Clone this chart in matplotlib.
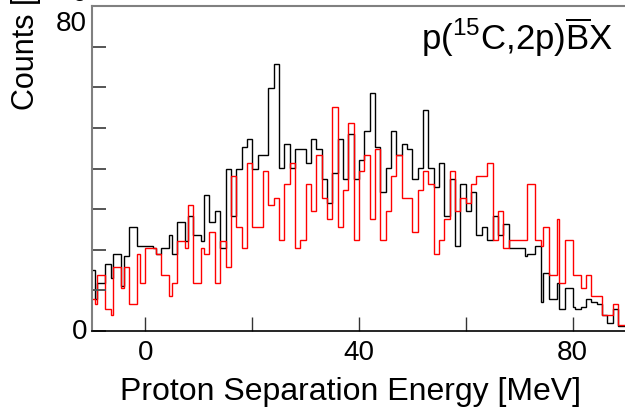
import matplotlib
matplotlib.use("Agg")
import matplotlib.pyplot as plt

plt.rcParams['font.family'] = ['Liberation Sans', 'DejaVu Sans']
plt.rcParams['mathtext.fontset'] = 'custom'
plt.rcParams['mathtext.rm'] = 'Liberation Sans'

#########
#########histogram data#########
#########
black_edges = [-10, -9.5, -9, -7.5, -6.5, -6, -4.5, -4, -3, -1.5, 1.5, 2, 3, 4.5, 5, 6,
               7.5, 8, 9, 10.5, 11, 12, 13, 14, 15, 16, 17, 18, 19, 20, 21, 23, 24, 25,
               26, 27, 28, 30, 31, 32, 33, 34, 35, 36, 37, 38, 39, 40, 41, 42, 43, 44,
               45, 46, 47, 48, 49, 50, 51, 52, 53, 54, 55, 56, 57, 58, 59, 60, 61, 62,
               63, 64, 65, 66, 67, 68, 71, 71.5, 73, 74, 74.5, 75.5, 77, 77.5, 78.5, 80,
               80.5, 81.5, 82.5, 83.5, 84.5, 85.5, 86.5, 87.5, 88.5, 90]
black_counts = [14.9, 7.9, 11.8, 16.4, 13.1, 19, 11.2, 18.4, 25.6, 21, 20.4, 19, 20.4,
                23.6, 19, 26.9, 22.2, 28.2, 23.6, 22.2, 33.5, 26.9, 29.6, 20.4, 40, 28.2,
                40, 45.3, 47.3, 40, 43.3, 59.8, 65.7, 40.1, 46, 40.1, 44.7, 41.4, 47.3,
                44.7, 37.4, 31.5, 38.8, 47.3, 37.4, 48.6, 37.4, 42, 49.3, 58.5, 45.2,
                34.2, 40.1, 49.3, 43.3, 46, 44.7, 37.4, 40.1, 54.5, 40.1, 35.5, 41.4,
                28.2, 37.4, 21, 36.1, 29.6, 34.2, 23.6, 25.6, 22.3, 28.2, 23.6, 26.3,
                20.4, 18.4, 19, 21, 7.2, 14.3, 7.9, 11.8, 5.3, 10.5, 5.9, 5.3, 5.9, 7.9,
                7.2, 6.6, 3.9, 2, 5.3, 1.3]

red_edges = [-10, -9.5, -9, -7.5, -6.5, -6, -4.5, -4, -3, -1.5, -1, 0, 2, 3, 4.5, 5, 6,
             7.5, 8, 9, 10.5, 11, 12, 13, 14, 15, 16, 17, 18, 19, 20, 22, 23, 24, 25, 26,
             27, 28, 29, 30, 31, 32, 33, 34, 35, 36, 37, 38, 39, 40, 41, 42, 43, 44, 45,
             46, 47, 48, 50, 51, 52, 53, 54, 55, 56, 57, 58, 59, 60, 61, 62, 64, 65, 66,
             67, 68, 71.5, 73, 74, 74.5, 75.5, 77, 77.5, 78.5, 80, 81.5, 82.5, 83.5, 85.5,
             87.5, 88.5, 90]
red_counts = [7.9, 6.6, 13.8, 5.3, 3.9, 15.8, 10.5, 15.8, 6.6, 19, 11.8, 20.4, 19, 13.8,
              8.5, 11.8, 22.2, 20.4, 30.9, 11.8, 20.4, 19, 24.3, 11.8, 22.2, 15.8, 38.1,
              25.6, 20.4, 41.4, 25.6, 39.4, 30.9, 32.8, 22.3, 36.1, 41.4, 20.4, 22.3,
              36.1, 29.6, 43.3, 32.8, 27.6, 55.2, 25.6, 34.8, 51.2, 22.3, 39.4, 43.3,
              27.6, 44.7, 22.3, 29.6, 38.1, 43.3, 32.8, 24.3, 34.8, 39.4, 36.1, 19, 22.3,
              27.6, 39.4, 29.6, 32.8, 31.5, 36.1, 38.1, 41.4, 22.3, 29.6, 20.4, 22.3,
              36.1, 22.3, 21, 25.6, 13.8, 27.6, 11.8, 22.3, 13.8, 10.5, 13.8, 8.5, 3.9,
              6.6, 1.6]

x_ticks = [0, 20, 40, 60, 80]
x_tick_labels = ['0', '', '40', '', '80']
y_ticks = [0, 10, 20, 30, 40, 50, 60, 70, 80]

#########
#########draw#########
#########
W, H = 625, 410
fig = plt.figure(figsize=(W / 100, H / 100), dpi=100)
ax = fig.add_axes([92 / W, 78 / H, 534 / W, 325 / H])

ax.stairs(black_counts, black_edges, color='black', lw=1.0, baseline=None)
ax.stairs(red_counts, red_edges, color='#ff0000', lw=1.0, baseline=None)

ax.set_xlim(-10, 90)
ax.set_ylim(0, 80)

ax.spines['right'].set_visible(False)
ax.spines['top'].set_color('#808080')
ax.spines['left'].set_color('#808080')
ax.spines['top'].set_linewidth(1.5)
ax.spines['left'].set_linewidth(1.5)
ax.spines['bottom'].set_linewidth(1.2)

ax.set_xticks(x_ticks)
ax.set_xticklabels(x_tick_labels)
ax.set_yticks(y_ticks)
ax.set_yticklabels([])
ax.tick_params(axis='x', direction='in', length=10, width=1.0, labelsize=20, pad=6,
               color='#333333')
ax.tick_params(axis='y', direction='in', length=10, width=1.4, color='#555555')

# y tick labels drawn by hand (ROOT places the top one below the frame edge)
ax.text(-0.008, 0, '0', transform=ax.transAxes, ha='right', va='center', fontsize=20)
ax.text(-0.01, 0.948, '80', transform=ax.transAxes, ha='right', va='center', fontsize=20)
# bottom of a label that sits above the picture edge
fig.text(80 / W, (H + 6) / H, '0', ha='center', va='center', fontsize=20)

fig.text(351 / W, 10 / H, 'Proton Separation Energy [MeV]', ha='center',
         va='baseline', fontsize=23)
fig.text(26 / W, 300 / H, 'Counts [1/MeV]', rotation=90, ha='center',
         va='bottom', fontsize=22)

ax.text(613 / W, (H - 50) / H, r'p($^{15}$C,2p)$\overline{\mathrm{B}}$X',
        transform=fig.transFigure, ha='right', va='baseline', fontsize=25)

fig.savefig('out.png', dpi=100)
